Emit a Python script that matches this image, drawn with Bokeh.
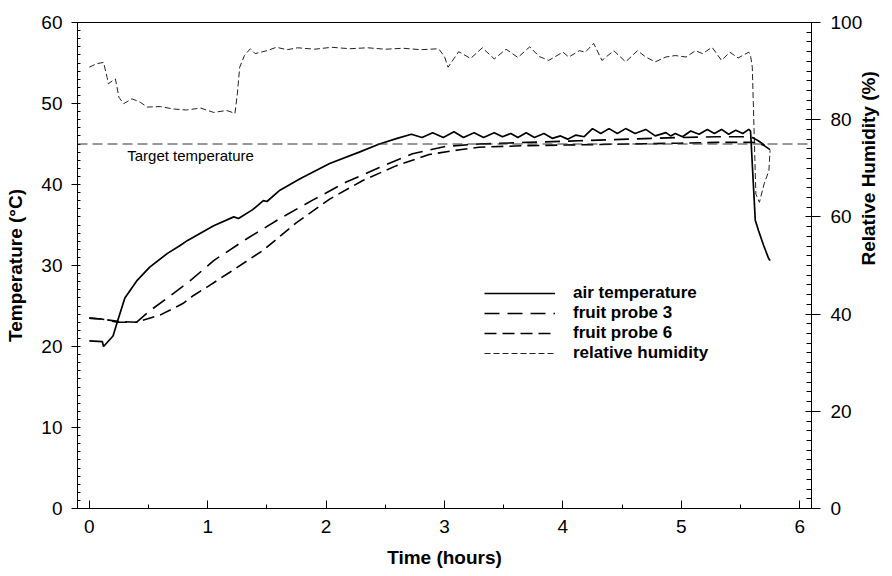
import math
from bokeh.plotting import figure
from bokeh.models import (Range1d, LinearAxis, FixedTicker, Span, Label,
                          Legend, LegendItem, Title)
from bokeh.embed import file_html
from bokeh.resources import INLINE

# ---------------- data ----------------
air_t = [0, 0.11, 0.12, 0.20, 0.24, 0.30, 0.40, 0.51, 0.66, 0.77, 0.83, 1.05,
         1.22, 1.26, 1.38, 1.47, 1.50, 1.61, 1.78, 2.03, 2.28, 2.45, 2.60,
         2.72, 2.81, 2.90, 2.99, 3.08, 3.16, 3.25, 3.33, 3.42, 3.49, 3.56,
         3.62, 3.69, 3.76, 3.84, 3.91, 3.98, 4.04, 4.11, 4.18, 4.25, 4.32,
         4.39, 4.46, 4.53, 4.61, 4.70, 4.78, 4.87, 4.91, 4.95, 5.01, 5.08,
         5.15, 5.22, 5.28, 5.34, 5.40, 5.46, 5.52, 5.57, 5.585, 5.625, 5.653,
         5.695, 5.737, 5.75]
air_temp = [20.7, 20.6, 20.0, 21.3, 23.2, 26.0, 28.1, 29.8, 31.5, 32.5, 33.1,
            34.9, 36.0, 35.8, 36.9, 38.0, 37.9, 39.3, 40.7, 42.6, 44.0, 45.0,
            45.7, 46.2, 45.8, 46.4, 45.8, 46.5, 45.8, 46.4, 45.8, 46.4, 45.9,
            46.3, 45.8, 46.4, 45.8, 46.3, 45.7, 46.0, 45.6, 46.1, 45.9, 46.9,
            46.3, 46.9, 46.3, 46.9, 46.3, 46.8, 46.0, 46.4, 46.0, 46.3, 45.9,
            46.6, 46.2, 46.8, 46.3, 46.8, 46.2, 46.7, 46.3, 46.8, 46.6, 35.6,
            34.3, 32.5, 30.9, 30.6]

probe3_t = [0, 0.10, 0.24, 0.40, 0.51, 0.66, 0.85, 1.05, 1.33, 1.61, 1.89,
            2.17, 2.45, 2.73, 3.01, 3.29, 3.70, 4.14, 4.55, 4.98, 5.30, 5.57,
            5.60, 5.65, 5.70, 5.75]
probe3_temp = [23.5, 23.4, 23.0, 23.0, 24.4, 26.0, 28.1, 30.6, 33.3, 35.8,
               38.1, 40.3, 42.1, 43.8, 44.7, 45.0, 45.2, 45.4, 45.6, 45.8,
               45.9, 45.9, 45.8, 45.4, 44.9, 44.3]

probe6_t = [0, 0.10, 0.24, 0.40, 0.60, 0.79, 0.88, 1.00, 1.19, 1.47, 1.75,
            2.03, 2.31, 2.59, 2.87, 3.13, 3.29, 3.70, 4.14, 4.55, 4.98, 5.30,
            5.57, 5.60, 5.65, 5.70, 5.75]
probe6_temp = [23.5, 23.4, 23.1, 23.0, 23.9, 25.3, 26.3, 27.4, 29.2, 31.9,
               35.3, 38.2, 40.5, 42.3, 43.7, 44.3, 44.6, 44.8, 44.9, 45.0,
               45.1, 45.2, 45.2, 45.2, 45.1, 44.8, 44.3]

rh_t = [0, 0.06, 0.12, 0.15, 0.16, 0.22, 0.25, 0.29, 0.36, 0.43, 0.49, 0.60,
        0.71, 0.82, 0.94, 1.05, 1.16, 1.23, 1.25, 1.27, 1.31, 1.36, 1.40,
        1.50, 1.58, 1.67, 1.76, 1.90, 2.05, 2.20, 2.35, 2.50, 2.65, 2.80,
        2.95, 3.00, 3.03, 3.12, 3.22, 3.32, 3.42, 3.52, 3.62, 3.72, 3.80,
        3.88, 4.00, 4.05, 4.14, 4.19, 4.26, 4.33, 4.43, 4.53, 4.63, 4.70,
        4.78, 4.87, 4.95, 5.04, 5.12, 5.18, 5.26, 5.34, 5.41, 5.48, 5.57,
        5.585, 5.60, 5.63, 5.66, 5.70, 5.74, 5.75]
rh_val = [90.8, 91.5, 91.8, 88.7, 87.4, 88.4, 84.6, 83.3, 84.3, 83.6, 82.6,
          82.7, 82.2, 82.0, 82.4, 81.5, 81.9, 81.3, 85.3, 90.8, 93.2, 94.6,
          93.6, 94.2, 94.9, 94.4, 94.8, 94.5, 94.9, 94.6, 94.8, 94.5, 94.7,
          94.4, 94.6, 93.0, 90.8, 94.0, 92.6, 94.8, 92.5, 94.5, 92.8, 95.0,
          93.0, 92.2, 93.9, 92.9, 94.2, 93.9, 95.7, 92.2, 94.2, 91.9, 94.2,
          92.9, 91.9, 92.9, 93.2, 92.9, 94.2, 93.6, 94.9, 92.2, 93.9, 92.7,
          93.9, 93.2, 90.8, 64.7, 63.0, 66.8, 69.5, 73.7]

target_temp = 45
x_ticks = [0, 1, 2, 3, 4, 5, 6]
temp_ticks = [0, 10, 20, 30, 40, 50, 60]
rh_ticks = [0, 20, 40, 60, 80, 100]

FONT = "Liberation Sans"

# ---------------- figure ----------------
p = figure(width=892, height=576, output_backend="svg", toolbar_location=None,
           x_range=Range1d(-0.1, 6.1), y_range=Range1d(0, 60),
           min_border_left=77, min_border_right=79, min_border_top=22,
           min_border_bottom=68)
p.extra_y_ranges = {"rh": Range1d(0, 100)}
p.grid.visible = False
p.outline_line_color = "black"
p.outline_line_width = 1
p.background_fill_color = "white"
p.border_fill_color = "white"

# x axis
xa = p.xaxis[0]
xa.ticker = FixedTicker(ticks=x_ticks,
                        minor_ticks=[i * 0.5 for i in range(-1, 13)])
xa.axis_label = "Time (hours)"
xa.major_tick_in = 8
xa.major_tick_out = 0
xa.minor_tick_in = 4
xa.minor_tick_out = 0
xa.major_label_standoff = 11
xa.axis_label_standoff = 11

# left axis
ya = p.yaxis[0]
ya.ticker = FixedTicker(ticks=temp_ticks, minor_ticks=list(range(0, 61)))
ya.axis_label = "Temperature (°C)"
ya.major_tick_in = 0
ya.major_tick_out = 6
ya.minor_tick_in = 3
ya.minor_tick_out = 0
ya.major_label_standoff = 9
ya.axis_label_standoff = 12

# right axis
ra = LinearAxis(y_range_name="rh")
ra.ticker = FixedTicker(ticks=rh_ticks, minor_ticks=list(range(0, 101, 2)))
ra.major_tick_in = 6
ra.major_tick_out = 9
ra.minor_tick_in = 5
ra.minor_tick_out = 0
ra.major_label_standoff = 10
p.add_layout(ra, "right")

for ax in (xa, ya, ra):
    ax.axis_line_color = "black"
    ax.major_tick_line_color = "black"
    ax.minor_tick_line_color = "black"
    ax.major_label_text_font = FONT
    ax.major_label_text_font_size = "19px"
    ax.major_label_text_color = "black"
    ax.axis_label_text_font = FONT
    ax.axis_label_text_font_size = "19px"
    ax.axis_label_text_font_style = "bold"
    ax.axis_label_text_color = "black"

# right axis title reading bottom-to-top
try:
    ra.axis_label_orientation = math.pi / 2
    ra.axis_label = "Relative Humidity (%)"
    ra.axis_label_standoff = 3
except AttributeError:
    p.add_layout(Title(text="Relative Humidity (%)", align="center",
                       text_font=FONT, text_font_size="19px",
                       text_font_style="bold"), "right")

# target temperature
p.add_layout(Span(location=target_temp, dimension="width", line_color="#333333",
                  line_width=1, line_dash="10 5"))
p.add_layout(Label(x=0.32, y=43.6, text="Target temperature", text_font=FONT,
                   text_font_size="15px", text_baseline="middle",
                   text_align="left", text_color="black"))

# series
r_rh = p.line(rh_t, rh_val, y_range_name="rh", line_color="#222222",
              line_width=1, line_dash="6 3")
r_p6 = p.line(probe6_t, probe6_temp, line_color="black", line_width=1.6,
              line_dash="12 6")
r_p3 = p.line(probe3_t, probe3_temp, line_color="black", line_width=1.6,
              line_dash="15 8")
r_air = p.line(air_t, air_temp, line_color="black", line_width=1.7)

legend = Legend(items=[
    LegendItem(label="air temperature", renderers=[r_air]),
    LegendItem(label="fruit probe 3", renderers=[r_p3]),
    LegendItem(label="fruit probe 6", renderers=[r_p6]),
    LegendItem(label="relative humidity", renderers=[r_rh]),
], location=(407, 145))
legend.padding = 0
legend.margin = 0
legend.spacing = 0
legend.glyph_width = 71
legend.glyph_height = 20
legend.label_height = 20
legend.label_standoff = 18
legend.border_line_color = None
legend.background_fill_alpha = 0
legend.label_text_font = FONT
legend.label_text_font_size = "17px"
legend.label_text_font_style = "bold"
legend.label_text_color = "black"
p.add_layout(legend)

open("out.html", "w").write(file_html(p, INLINE))
